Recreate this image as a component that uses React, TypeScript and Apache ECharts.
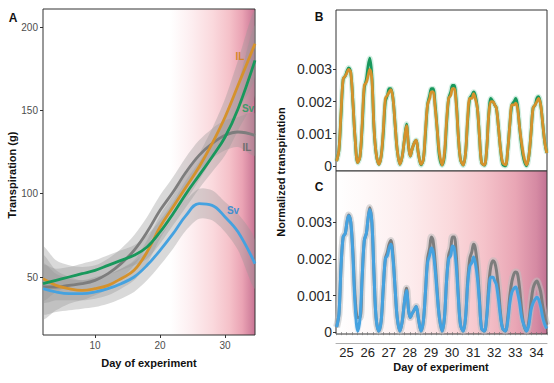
import React, { useEffect, useRef } from 'react';
import * as echarts from 'echarts';

const FONT = 'Liberation Sans, Arial, Helvetica, sans-serif';

// ---------- Panel A (smoothed whole-experiment curves) ----------
const daysA = [2, 4, 6, 8, 10, 12, 14, 16, 18, 20, 22, 24, 26, 28, 30, 32, 34.6];
const orangeIL = [49, 45, 43, 42, 43, 45, 49, 54, 65, 80, 92, 104, 116, 130, 146, 165, 190];
const greenSv = [46, 48, 50, 52, 54, 57, 60, 63, 68, 77, 88, 100, 111, 122, 134, 151, 180];
const grayIL = [44, 44, 45, 46, 48, 52, 58, 66, 77, 90, 101, 113, 123, 130, 135, 137, 135];
const blueSv = [43, 41, 40, 40, 41, 43, 46, 50, 57, 66, 76, 87, 94, 93, 86, 77, 58];

const orangeLo = [35, 36, 36, 36, 37, 39, 43, 48, 58, 73, 85, 96, 108, 121, 135, 150, 170];
const orangeHi = [63, 54, 50, 48, 49, 51, 55, 60, 72, 87, 99, 112, 124, 139, 157, 180, 210];
const greenLo = [36, 41, 44, 46, 48, 51, 54, 57, 61, 70, 81, 92, 103, 113, 123, 138, 159];
const greenHi = [57, 55, 56, 58, 60, 63, 66, 69, 75, 84, 95, 108, 119, 131, 145, 166, 201];
const grayLo = [25, 30, 34, 36, 39, 43, 49, 57, 68, 81, 92, 104, 114, 121, 126, 128, 123];
const grayHi = [68, 60, 57, 56, 57, 61, 67, 75, 86, 99, 110, 122, 132, 139, 144, 146, 148];
const blueLo = [28, 29, 30, 31, 32, 34, 37, 41, 48, 57, 67, 78, 85, 84, 77, 66, 43];
const blueHi = [58, 52, 49, 48, 50, 52, 55, 59, 66, 75, 85, 96, 103, 102, 95, 88, 72];

const yTicksA = [50, 100, 150, 200];
const xTicksA = [10, 20, 30];

// ---------- Panels B & C (diurnal normalized transpiration) ----------
const dayStarts = [25, 26, 27, 28, 29, 30, 31, 32, 33, 34];
const dayLabelsC = ['25', '26', '27', '28', '29', '30', '31', '32', '33', '34'];
const hourFractions = [0.03, 0.14, 0.24, 0.34, 0.44, 0.52, 0.6, 0.7, 0.8, 0.9];
const endTime = 34.99;
const yTicksBC = [0, 0.001, 0.002, 0.003];

const orangeB = [
  [0.00015, 0.0005, 0.0017, 0.0027, 0.0028, 0.0029, 0.003, 0.0029, 0.002, 0.0009],
  [0.0001, 0.0003, 0.0013, 0.0025, 0.0026, 0.0028, 0.003, 0.0027, 0.0012, 0.0004],
  [0.00005, 0.0003, 0.0011, 0.0021, 0.0022, 0.0023, 0.00237, 0.0021, 0.0013, 0.0005],
  [0.00005, 0.0003, 0.0008, 0.00125, 0.0006, 0.0003, 0.0005, 0.0007, 0.0008, 0.0004],
  [0.00005, 0.0002, 0.0011, 0.0019, 0.0021, 0.0023, 0.0023, 0.0018, 0.0011, 0.0004],
  [0.00003, 0.0004, 0.0014, 0.0021, 0.0022, 0.0024, 0.0024, 0.0019, 0.0009, 0.0002],
  [0.00003, 0.0004, 0.0015, 0.0021, 0.0021, 0.00225, 0.0021, 0.0018, 0.0009, 0.0001],
  [0.00003, 0.0005, 0.0016, 0.002, 0.002, 0.0019, 0.0018, 0.0012, 0.0005, 0.0001],
  [0.00003, 0.0005, 0.0013, 0.0019, 0.0019, 0.00195, 0.0018, 0.0012, 0.0007, 0.0003],
  [0.00003, 0.0003, 0.001, 0.0018, 0.0019, 0.002, 0.0021, 0.0019, 0.0013, 0.0007],
];
const orangeBEnd = 0.0004;

const greenB = [
  [0.00015, 0.0005, 0.0016, 0.0027, 0.0028, 0.00295, 0.00305, 0.0029, 0.002, 0.0009],
  [0.0001, 0.0003, 0.0012, 0.0024, 0.0027, 0.0031, 0.00335, 0.0028, 0.0012, 0.0004],
  [0.00005, 0.0003, 0.001, 0.002, 0.0022, 0.0024, 0.0024, 0.0021, 0.0013, 0.0005],
  [0.00005, 0.0003, 0.0008, 0.0013, 0.0006, 0.0003, 0.0005, 0.0007, 0.0008, 0.0004],
  [0.00003, 0.0002, 0.001, 0.0019, 0.0022, 0.0024, 0.0024, 0.0019, 0.0011, 0.0003],
  [0.00002, 0.0003, 0.0013, 0.0021, 0.0023, 0.0025, 0.0025, 0.002, 0.0009, 0.0002],
  [0.00002, 0.0004, 0.0014, 0.0021, 0.0022, 0.0023, 0.0022, 0.0018, 0.0009, 0.0001],
  [0.00002, 0.0005, 0.0016, 0.0021, 0.002, 0.0019, 0.0018, 0.0012, 0.0005, 0.00005],
  [0.0, 0.0005, 0.0013, 0.0019, 0.002, 0.0021, 0.0019, 0.0012, 0.0006, 0.0002],
  [0.0, 0.0003, 0.001, 0.0018, 0.0019, 0.0021, 0.00215, 0.0019, 0.0013, 0.0007],
];
const greenBEnd = 0.0004;

const grayC = [
  [0.00014, 0.0005, 0.0018, 0.0026, 0.0027, 0.003, 0.0032, 0.003, 0.0022, 0.001],
  [0.0004, 0.0004, 0.0015, 0.0025, 0.0027, 0.0031, 0.0034, 0.003, 0.0016, 0.0004],
  [0.00003, 0.0003, 0.0012, 0.002, 0.0022, 0.0024, 0.0025, 0.0021, 0.0012, 0.0004],
  [0.00003, 0.0003, 0.0008, 0.0012, 0.0006, 0.0004, 0.0005, 0.0006, 0.0007, 0.0004],
  [0.00003, 0.0003, 0.0011, 0.002, 0.0023, 0.0026, 0.0025, 0.0019, 0.0011, 0.0004],
  [0.00003, 0.0004, 0.0014, 0.0021, 0.0023, 0.0026, 0.0026, 0.0021, 0.001, 0.0002],
  [0.00003, 0.0004, 0.0014, 0.002, 0.0022, 0.0024, 0.0023, 0.0018, 0.0009, 0.0001],
  [0.00003, 0.0004, 0.0013, 0.0018, 0.00195, 0.0019, 0.0017, 0.0012, 0.0005, 0.0001],
  [0.00003, 0.0004, 0.001, 0.0014, 0.0016, 0.00164, 0.0016, 0.0012, 0.0006, 0.0002],
  [0.00003, 0.0003, 0.0008, 0.0012, 0.00135, 0.0014, 0.0013, 0.0011, 0.0007, 0.0004],
];
const grayCEnd = 0.0002;

const blueC = [
  [0.00014, 0.0005, 0.0018, 0.0026, 0.0027, 0.003, 0.00318, 0.003, 0.0021, 0.0008],
  [0.00003, 0.0004, 0.0015, 0.0025, 0.0027, 0.0031, 0.00335, 0.003, 0.0016, 0.0004],
  [0.00003, 0.0003, 0.0012, 0.002, 0.0021, 0.0023, 0.0024, 0.002, 0.0012, 0.0004],
  [0.00003, 0.0003, 0.0008, 0.00114, 0.0006, 0.0004, 0.0005, 0.0006, 0.0007, 0.0004],
  [0.00003, 0.0003, 0.0011, 0.0019, 0.0021, 0.0023, 0.0022, 0.0017, 0.001, 0.0004],
  [0.00003, 0.0004, 0.0014, 0.002, 0.0021, 0.00235, 0.0023, 0.0018, 0.0009, 0.0002],
  [0.00003, 0.0004, 0.0013, 0.0018, 0.0019, 0.00205, 0.0019, 0.0015, 0.0008, 0.0001],
  [0.00003, 0.0004, 0.0011, 0.0015, 0.0015, 0.0014, 0.0013, 0.0009, 0.0004, 0.0001],
  [0.00003, 0.0003, 0.0008, 0.0011, 0.0012, 0.00123, 0.0011, 0.0008, 0.0004, 0.0002],
  [0.00003, 0.0002, 0.0006, 0.0008, 0.0009, 0.00095, 0.0009, 0.0007, 0.0004, 0.0002],
];
const blueCEnd = 0.0001;

const COLORS = {
  orange: '#d5922c',
  green: '#18985c',
  gray: '#7d7d7d',
  blue: '#45a2e0',
};

function toTimeSeries(rows: number[][], endVal: number) {
  const out: number[][] = [];
  rows.forEach((r, di) => r.forEach((v, k) => out.push([dayStarts[di] + hourFractions[k], v])));
  out.push([endTime, endVal]);
  return out;
}

function bandSeries(lo: number[], hi: number[]) {
  return {
    type: 'custom',
    xAxisIndex: 0,
    yAxisIndex: 0,
    silent: true,
    clip: true,
    z: 1,
    data: daysA.map((d, i) => [d, lo[i], hi[i]]),
    encode: { x: 0, y: [1, 2] },
    renderItem: (params: any, api: any) => {
      if (params.dataIndex !== 0) return null;
      const top = daysA.map((d, i) => api.coord([d, hi[i]]));
      const bot = daysA.map((d, i) => api.coord([d, lo[i]])).reverse();
      return {
        type: 'polygon',
        shape: { points: top.concat(bot), smooth: 0.3 },
        style: { fill: 'rgba(150,150,150,0.36)' },
      };
    },
  };
}

function lineA(values: number[], color: string) {
  return {
    type: 'line',
    xAxisIndex: 0,
    yAxisIndex: 0,
    data: daysA.map((d, i) => [d, values[i]]),
    smooth: 0.4,
    showSymbol: false,
    silent: true,
    z: 3,
    lineStyle: { color, width: 2.8 },
  };
}

function lineBC(data: number[][], color: string, width: number, axis: number, z = 3) {
  return {
    type: 'line',
    xAxisIndex: axis,
    yAxisIndex: axis,
    data,
    smooth: 0.35,
    showSymbol: false,
    silent: true,
    z,
    lineStyle: { color, width },
  };
}

const fmt = (v: number) => (v === 0 ? '0' : v.toFixed(3));

function text(x: number, y: number, t: string, size: number, fill: string, bold = true, rotation = 0) {
  return {
    type: 'text',
    x,
    y,
    z: 100,
    zlevel: 0,
    rotation,
    silent: true,
    style: {
      text: t,
      fill,
      opacity: 1,
      font: `${bold ? 'bold ' : ''}${size}px ${FONT}`,
      align: 'center',
      verticalAlign: 'middle',
      textAlign: 'center',
      textVerticalAlign: 'middle',
    },
  };
}

export default function App() {
  const ref = useRef<HTMLDivElement>(null);
  useEffect(() => {
    const chart = echarts.init(ref.current!, null, { renderer: 'svg' });
    const gradA = new echarts.graphic.LinearGradient(0, 0, 1, 0, [
      { offset: 0, color: '#ffffff' },
      { offset: 0.6, color: '#ffffff' },
      { offset: 0.7, color: '#fdeef0' },
      { offset: 0.8, color: '#fad9dd' },
      { offset: 0.88, color: '#f5c1c9' },
      { offset: 0.94, color: '#eaa3b4' },
      { offset: 1, color: '#c87494' },
    ]);
    const gradC = new echarts.graphic.LinearGradient(0, 0, 1, 0, [
      { offset: 0, color: '#ffffff' },
      { offset: 0.15, color: '#fef8f8' },
      { offset: 0.35, color: '#fdeced' },
      { offset: 0.55, color: '#fad8db' },
      { offset: 0.7, color: '#f5c3ca' },
      { offset: 0.85, color: '#e9a6b5' },
      { offset: 0.95, color: '#d58aa3' },
      { offset: 1, color: '#c27394' },
    ]);
    const tickStyle = { color: '#333', width: 1 };
    const option: any = {
      animation: false,
      backgroundColor: '#ffffff',
      textStyle: { fontFamily: FONT },
      grid: [
        { left: 43, top: 9, width: 212, height: 326, show: true, backgroundColor: gradA, borderColor: '#333', borderWidth: 1 },
        { left: 336, top: 10, width: 211, height: 161, show: true, backgroundColor: '#ffffff', borderColor: '#333', borderWidth: 1 },
        { left: 336, top: 171, width: 211, height: 163, show: true, backgroundColor: gradC, borderColor: '#333', borderWidth: 1 },
      ],
      xAxis: [
        {
          gridIndex: 0, type: 'value', min: 2, max: 34.6,
          axisLine: { show: false }, splitLine: { show: false },
          axisTick: { show: true, length: 3, lineStyle: tickStyle, customValues: xTicksA },
          axisLabel: { customValues: xTicksA, fontSize: 10, color: '#4d4d4d', margin: 5, fontFamily: FONT },
        },
        { gridIndex: 1, type: 'value', min: 25, max: 35, show: false },
        {
          gridIndex: 2, type: 'value', min: 25, max: 35, interval: 0.25,
          axisLine: { show: false }, splitLine: { show: false },
          axisTick: { show: true, length: 3, lineStyle: { color: '#777', width: 0.8 } },
          axisLabel: { show: false },
        },
        {
          gridIndex: 2, type: 'category', data: dayLabelsC, position: 'bottom', offset: 9, boundaryGap: true,
          axisLine: { show: true, lineStyle: { color: '#b0b0b0', width: 1 } },
          axisTick: { show: false }, splitLine: { show: false },
          axisLabel: { fontSize: 13, color: '#222', margin: 3, fontFamily: FONT },
        },
      ],
      yAxis: [
        {
          gridIndex: 0, type: 'value', min: 15.2, max: 210.8,
          axisLine: { show: false }, splitLine: { show: false },
          axisTick: { show: true, length: 3, lineStyle: tickStyle, customValues: yTicksA },
          axisLabel: { customValues: yTicksA, fontSize: 10, color: '#4d4d4d', margin: 5, fontFamily: FONT },
        },
        {
          gridIndex: 1, type: 'value', min: -0.00016, max: 0.00485,
          axisLine: { show: false }, splitLine: { show: false },
          axisTick: { show: true, length: 3, lineStyle: tickStyle, customValues: yTicksBC },
          axisLabel: { customValues: yTicksBC, formatter: fmt, fontSize: 14, color: '#2b2b2b', margin: 4, fontFamily: FONT },
        },
        {
          gridIndex: 2, type: 'value', min: -0.00005, max: 0.0044,
          axisLine: { show: false }, splitLine: { show: false },
          axisTick: { show: true, length: 3, lineStyle: tickStyle, customValues: yTicksBC },
          axisLabel: { customValues: yTicksBC, formatter: fmt, fontSize: 14, color: '#2b2b2b', margin: 4, fontFamily: FONT },
        },
      ],
      series: [
        bandSeries(grayLo, grayHi),
        bandSeries(blueLo, blueHi),
        bandSeries(orangeLo, orangeHi),
        bandSeries(greenLo, greenHi),
        lineA(grayIL, COLORS.gray),
        lineA(blueSv, COLORS.blue),
        lineA(orangeIL, COLORS.orange),
        lineA(greenSv, COLORS.green),
        lineBC(toTimeSeries(greenB, greenBEnd), 'rgba(110,200,160,0.3)', 5.5, 1, 2),
        lineBC(toTimeSeries(greenB, greenBEnd), COLORS.green, 2.8, 1),
        lineBC(toTimeSeries(orangeB, orangeBEnd), COLORS.orange, 2.8, 1),
        lineBC(toTimeSeries(grayC, grayCEnd), 'rgba(190,190,190,0.55)', 7, 2, 2),
        lineBC(toTimeSeries(blueC, blueCEnd), 'rgba(160,200,235,0.25)', 5, 2, 2),
        lineBC(toTimeSeries(grayC, grayCEnd), COLORS.gray, 3, 2),
        lineBC(toTimeSeries(blueC, blueCEnd), COLORS.blue, 3, 2),
      ],
      graphic: [
        text(13, 18, 'A', 12, '#111'),
        text(319, 17, 'B', 12, '#111'),
        text(319, 187, 'C', 12, '#111'),
        text(12, 175, 'Transpiration (g)', 11, '#111', true, Math.PI / 2),
        text(149, 363, 'Day of experiment', 11, '#111'),
        text(281, 172, 'Normalized transpiration', 11, '#111', true, Math.PI / 2),
        text(441, 367, 'Day of experiment', 11, '#111'),
        text(240, 56, 'IL', 10, '#d4862a'),
        text(248, 108, 'Sv', 10, '#3e9a6a'),
        text(247, 147, 'IL', 10, '#6e6e6e'),
        text(233, 210, 'Sv', 10, '#3f8fd0'),
      ],
    };
    chart.setOption(option);
    return () => chart.dispose();
  }, []);
  return <div ref={ref} style={{ position: 'fixed', left: 0, top: 0, width: 554, height: 383 }} />;
}
